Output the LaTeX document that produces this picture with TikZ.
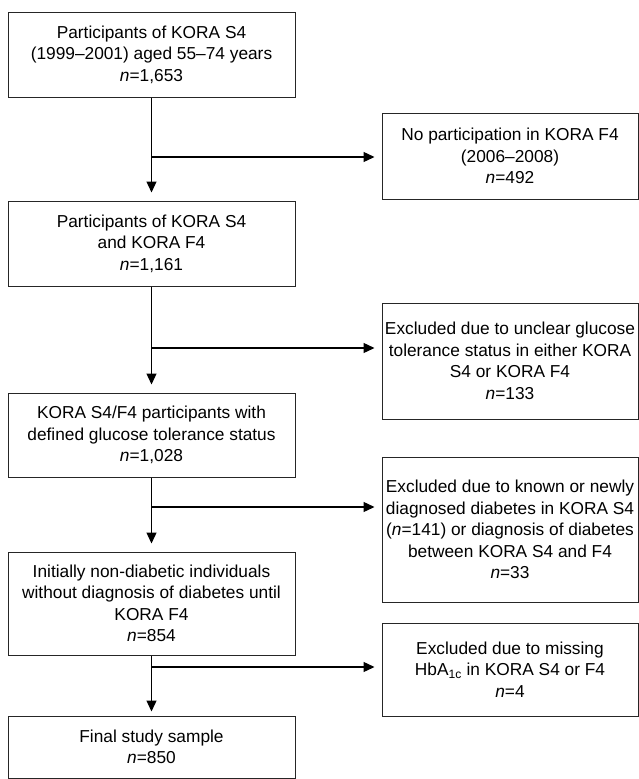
\documentclass[tikz,border=0pt]{standalone}
\usepackage{fontspec}
\setmainfont{Liberation Sans}
\usetikzlibrary{arrows.meta}
\tikzset{box/.style = {draw=black!85, line width=1pt, align=center, inner sep=0pt,
    font=\fontsize{17.3}{21.5}\selectfont},
  leftbox/.style = {box, minimum width=287pt},
  rightbox/.style = {box, minimum width=256pt},
  flow/.style = {line width=1.3pt, -{Triangle[length=11pt,width=10pt]}}}

\begin{document}
\begin{tikzpicture}[x=1pt, y=-1pt]
  \useasboundingbox (0,0) rectangle (639,779);
  % main column
  \node[leftbox, minimum height=85pt] (s4) at (151.5,54.5)
    {Participants of KORA S4\\(1999--2001) aged 55--74 years\\\textit{n}=1,653};
  \node[leftbox, minimum height=85pt] (s4f4) at (151.5,243.5)
    {Participants of KORA S4\\and KORA F4\\\textit{n}=1,161};
  \node[leftbox, minimum height=84pt] (defgt) at (151.5,435)
    {KORA S4/F4 participants with\\defined glucose tolerance status\\\textit{n}=1,028};
  \node[leftbox, minimum height=103pt] (nondiab) at (151.5,603.5)
    {Initially non-diabetic individuals\\without diagnosis of diabetes until\\KORA F4\\\textit{n}=854};
  \node[leftbox, minimum height=62pt] (final) at (151.5,747)
    {Final study sample\\\textit{n}=850};
  % exclusions
  \node[rightbox, minimum height=86pt] (nopart) at (510,156)
    {No participation in KORA F4\\(2006--2008)\\\textit{n}=492};
  \node[rightbox, minimum height=116pt] (unclear) at (510,361)
    {Excluded due to unclear glucose\\tolerance status in either KORA\\S4 or KORA F4\\\textit{n}=133};
  \node[rightbox, minimum height=145pt] (diab) at (510,529.5)
    {Excluded due to known or newly\\diagnosed diabetes in KORA S4\\(\textit{n}=141) or diagnosis of diabetes\\between KORA S4 and F4\\\textit{n}=33};
  \node[rightbox, minimum height=93pt] (hba) at (510,669.5)
    {Excluded due to missing\\HbA\textsubscript{1c} in KORA S4 or F4\\\textit{n}=4};

  \coordinate (j1) at (151.5,157);
  \coordinate (j2) at (151.5,348);
  \coordinate (j3) at (151.5,507);
  \coordinate (j4) at (151.5,667);

  \draw[flow, shorten >=8pt] (s4) -- (s4f4);
  \draw[flow, shorten >=8pt] (s4f4) -- (defgt);
  \draw[flow, shorten >=8pt] (defgt) -- (nondiab);
  \draw[flow, shorten >=4pt] (nondiab) -- (final);
  \draw[flow, shorten >=7pt] (j1) -- (j1 -| nopart.west);
  \draw[flow, shorten >=7pt] (j2) -- (j2 -| unclear.west);
  \draw[flow, shorten >=7pt] (j3) -- (j3 -| diab.west);
  \draw[flow, shorten >=7pt] (j4) -- (j4 -| hba.west);
\end{tikzpicture}
\end{document}
